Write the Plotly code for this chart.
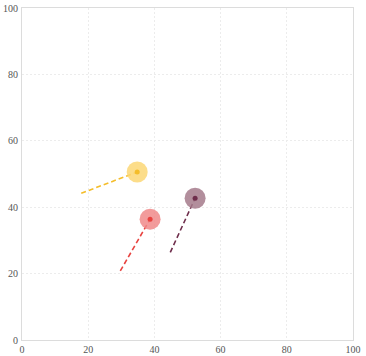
import plotly.graph_objects as go

# start points (tail of each dashed line) and end points (circle centres)
names = ["yellow", "red", "purple"]
x_start = [17.9, 29.7, 44.8]
y_start = [44.2, 20.8, 26.4]
x_end = [34.8, 38.7, 52.3]
y_end = [50.6, 36.4, 42.7]
colors = ["#f4bd2a", "#e8423f", "#6e2d4b"]
halo_colors = ["#fbd776", "#f08a8a", "#a47a8b"]

fig = go.Figure()

for i, name in enumerate(names):
    # dashed trail
    fig.add_trace(
        go.Scatter(
            x=[x_start[i], x_end[i]],
            y=[y_start[i], y_end[i]],
            mode="lines",
            line=dict(color=colors[i], width=1.6, dash="5px,3px"),
            hoverinfo="skip",
            showlegend=False,
        )
    )
    # translucent halo
    fig.add_trace(
        go.Scatter(
            x=[x_end[i]],
            y=[y_end[i]],
            mode="markers",
            marker=dict(size=21, color=halo_colors[i], opacity=0.85, line=dict(width=0)),
            showlegend=False,
        )
    )
    # small centre dot
    fig.add_trace(
        go.Scatter(
            x=[x_end[i]],
            y=[y_end[i]],
            mode="markers",
            marker=dict(size=5, color=colors[i], line=dict(width=0)),
            showlegend=False,
        )
    )

axis_style = dict(
    range=[0, 100],
    dtick=20,
    showgrid=True,
    gridcolor="#ececec",
    griddash="2px,2px",
    gridwidth=1,
    showline=True,
    linecolor="#dcdcdc",
    linewidth=1,
    mirror=True,
    zeroline=False,
    ticks="",
    automargin=False,
    tickfont=dict(family="'Liberation Serif', 'DejaVu Serif', serif", size=10, color="#555555"),
    fixedrange=True,
)

fig.update_layout(
    width=366,
    height=356,
    margin=dict(l=22, r=13, t=8, b=16),
    paper_bgcolor="white",
    plot_bgcolor="white",
    font=dict(family="'Liberation Serif', 'DejaVu Serif', serif"),
    xaxis=dict(axis_style, ticklabelstandoff=0),
    yaxis=dict(axis_style, ticklabelstandoff=1),
    showlegend=False,
)

# drop the browser's default body margin so the figure sits at the page corner
fig.write_html(
    "out.html",
    config={"displayModeBar": False},
    post_script="document.body.style.margin = '0';",
)
